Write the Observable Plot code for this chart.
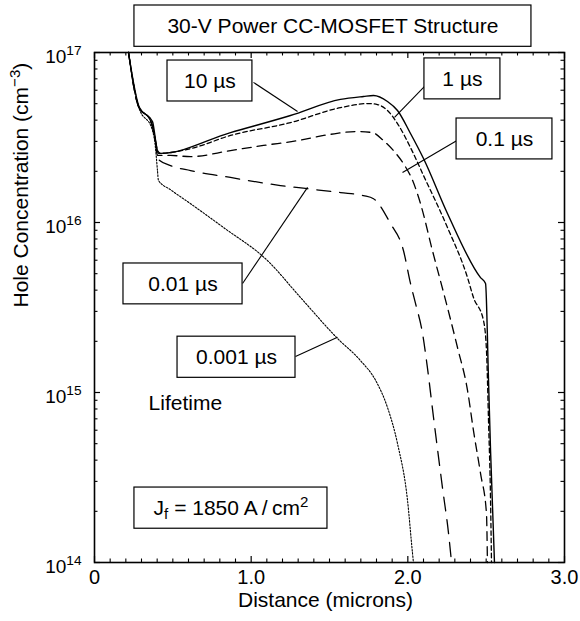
<!DOCTYPE html>
<html>
<head>
<meta charset="utf-8">
<script src="https://cdn.jsdelivr.net/npm/d3@7"></script>
<script src="https://cdn.jsdelivr.net/npm/@observablehq/plot@0.6"></script>
<style>
html, body { margin: 0; padding: 0; background: #fff; }
#chart { width: 580px; height: 621px; }
</style>
</head>
<body>
<div id="chart"></div>
<script>
// ---------- data ----------
const lifetimes = ["10 µs", "1 µs", "0.1 µs", "0.01 µs", "0.001 µs"];

const x10us = [0.217, 0.287, 0.370, 0.402, 0.421, 0.868, 1.251, 1.570, 1.717, 1.781, 1.870, 1.934, 2.017, 2.100, 2.253, 2.464, 2.496, 2.515, 2.528, 2.553];
const y10us = [1.0e17, 4.74e16, 3.93e16, 2.65e16, 2.55e16, 3.38e16, 4.26e16, 5.30e16, 5.51e16, 5.58e16, 5.15e16, 4.56e16, 3.34e16, 2.38e16, 1.13e16, 4.74e15, 4.38e15, 1.18e15, 4.56e14, 1.0e14];

const x1us = [0.217, 0.281, 0.357, 0.389, 0.408, 0.613, 0.868, 1.251, 1.570, 1.749, 1.806, 1.870, 1.934, 2.017, 2.100, 2.253, 2.381, 2.419, 2.483, 2.502, 2.515, 2.528, 2.534];
const y1us = [1.0e17, 4.81e16, 3.98e16, 3.03e16, 2.55e16, 2.72e16, 3.25e16, 3.87e16, 4.74e16, 5.01e16, 4.94e16, 4.56e16, 3.82e16, 2.76e16, 1.89e16, 9.35e15, 4.74e15, 3.62e15, 2.65e15, 1.77e15, 6.84e14, 2.32e14, 1.0e14];

const x01us = [0.217, 0.281, 0.357, 0.389, 0.402, 0.485, 0.613, 0.868, 1.079, 1.296, 1.506, 1.679, 1.774, 1.845, 1.908, 1.972, 2.030, 2.081, 2.157, 2.253, 2.317, 2.381, 2.419, 2.464, 2.502, 2.508];
const y01us = [1.0e17, 4.81e16, 3.98e16, 3.03e16, 2.48e16, 2.48e16, 2.44e16, 2.65e16, 2.84e16, 3.03e16, 3.30e16, 3.43e16, 3.38e16, 3.03e16, 2.65e16, 2.22e16, 1.77e16, 1.29e16, 6.84e15, 3.16e15, 1.84e15, 1.03e15, 5.97e14, 3.34e14, 1.94e14, 1.0e14];

const x001us = [0.217, 0.281, 0.357, 0.389, 0.402, 0.485, 0.613, 0.868, 1.187, 1.360, 1.570, 1.717, 1.781, 1.889, 1.972, 2.017, 2.049, 2.094, 2.125, 2.164, 2.221, 2.260, 2.279];
const y001us = [1.0e17, 4.81e16, 3.98e16, 3.03e16, 2.38e16, 2.16e16, 2.02e16, 1.84e16, 1.65e16, 1.58e16, 1.50e16, 1.44e16, 1.38e16, 9.86e15, 6.84e15, 4.38e15, 3.34e15, 2.22e15, 1.40e15, 7.13e14, 2.76e14, 1.48e14, 1.0e14];

const x0001us = [0.217, 0.281, 0.370, 0.389, 0.402, 0.408, 0.485, 0.613, 0.823, 1.104, 1.315, 1.551, 1.698, 1.794, 1.870, 1.934, 1.998, 2.030, 2.036];
const y0001us = [1.0e17, 4.81e16, 3.48e16, 2.76e16, 2.02e16, 1.77e16, 1.56e16, 1.29e16, 9.35e15, 5.97e15, 3.62e15, 2.08e15, 1.54e15, 1.18e15, 8.17e14, 5.01e14, 2.32e14, 1.13e14, 1.0e14];

const seriesX = [x10us, x1us, x01us, x001us, x0001us];
const seriesY = [y10us, y1us, y01us, y001us, y0001us];

// label boxes (data coordinates) and leader lines
const boxX1 = [0.466, 2.106, 2.311, 0.185, 0.530];
const boxX2 = [1.008, 2.591, 2.923, 0.945, 1.283];
const boxY1 = [5.15e16, 5.30e16, 2.35e16, 3.30e15, 1.22e15];
const boxY2 = [8.97e16, 9.23e16, 4.09e16, 5.74e15, 2.13e15];
const leadX1 = [1.015, 2.113, 2.311, 0.945, 1.283];
const leadY1 = [6.67e16, 6.40e16, 3.03e16, 4.38e15, 1.63e15];
const leadX2 = [1.296, 1.915, 1.966, 1.360, 1.551];
const leadY2 = [4.50e16, 4.15e16, 1.97e16, 1.61e16, 2.11e15];

const titleText = "30-V Power CC-MOSFET Structure";
const titleBox = {x1: 0.255, x2: 2.789, y1: 1.08e17, y2: 1.89e17};
const noteText = "Lifetime";
const notePos = {x: 0.345, y: 8.67e14};
const currentText = "J_{f} = 1850 A\u2009/\u2009cm^{2}";
const currentBox = {x1: 0.255, x2: 1.487, y1: 1.58e14, y2: 2.76e14};

const xTitle = "Distance (microns)";
const yTitle = "Hole Concentration (cm^{\u22123})";
const xTickValues = [0, 1, 2, 3];
const xTickLabels = ["0", "1.0", "2.0", "3.0"];
const yTickValues = [1e14, 1e15, 1e16, 1e17];
const yTickLabels = ["10^{14}", "10^{15}", "10^{16}", "10^{17}"];

// ---------- build ----------
const xMinor = d3.range(1, 30).filter(i => i % 10 !== 0).map(i => i / 10);
const yMinor = [14, 15, 16].flatMap(e => d3.range(2, 10).map(m => m * Math.pow(10, e)));

const dashes = [null, "4.5,3", "9,6", "14,9", "1.6,1.6"];
const widths = [1.4, 1.3, 1.3, 1.3, 1.1];

const W = 580, H = 621, mL = 94, mR = 16, mT = 52, mB = 59;
const pW = W - mL - mR, pH = H - mT - mB;
const majorLen = 6, minorLen = 3.5;

const boxes = lifetimes.map((label, i) => ({label, x1: boxX1[i], x2: boxX2[i], y1: boxY1[i], y2: boxY2[i]}));
const leaders = lifetimes.map((label, i) => ({x1: leadX1[i], y1: leadY1[i], x2: leadX2[i], y2: leadY2[i]}));

const lineMarks = lifetimes.map((s, i) =>
  Plot.line(seriesX[i].map((x, j) => ({x, y: seriesY[i][j]})), {
    x: "x", y: "y", stroke: "black", strokeWidth: widths[i],
    strokeDasharray: dashes[i] || undefined, curve: "monotone-x"
  })
);

const chart = Plot.plot({
  width: W, height: H,
  marginLeft: mL, marginRight: mR, marginTop: mT, marginBottom: mB,
  style: {fontFamily: "'Liberation Sans', Arial, Helvetica, sans-serif", fontSize: "20px", background: "white", color: "black"},
  x: {domain: [0, 3], axis: null},
  y: {type: "log", domain: [1e14, 1e17], axis: null},
  marks: [
    ...lineMarks,
    Plot.link(leaders, {x1: "x1", y1: "y1", x2: "x2", y2: "y2", stroke: "black", strokeWidth: 1.1}),
    Plot.rect(boxes, {x1: "x1", x2: "x2", y1: "y1", y2: "y2", fill: "white", stroke: "black", strokeWidth: 1.2}),
    Plot.text(boxes, {x: d => (d.x1 + d.x2) / 2, y: d => Math.sqrt(d.y1 * d.y2), text: "label", fontSize: 21}),
    Plot.rect([currentBox], {x1: "x1", x2: "x2", y1: "y1", y2: "y2", fill: "white", stroke: "black", strokeWidth: 1.2}),
    Plot.text([currentBox], {x: d => (d.x1 + d.x2) / 2, y: d => Math.sqrt(d.y1 * d.y2), text: () => currentText, fontSize: 21}),
    Plot.text([notePos], {x: "x", y: "y", text: () => noteText, textAnchor: "start", fontSize: 21}),
    Plot.rect([titleBox], {x1: "x1", x2: "x2", y1: "y1", y2: "y2", fill: "white", stroke: "black", strokeWidth: 1.2}),
    Plot.text([titleBox], {x: d => (d.x1 + d.x2) / 2, y: d => Math.sqrt(d.y1 * d.y2), text: () => titleText, fontSize: 21}),
    // ticks (inward, all four sides)
    Plot.tickX(xTickValues, {x: d => d, insetTop: pH - majorLen, strokeWidth: 1.2}),
    Plot.tickX(xTickValues, {x: d => d, insetBottom: pH - majorLen, strokeWidth: 1.2}),
    Plot.tickX(xMinor, {x: d => d, insetTop: pH - minorLen, strokeWidth: 1.1}),
    Plot.tickX(xMinor, {x: d => d, insetBottom: pH - minorLen, strokeWidth: 1.1}),
    Plot.tickY(yTickValues, {y: d => d, insetRight: pW - majorLen, strokeWidth: 1.2}),
    Plot.tickY(yTickValues, {y: d => d, insetLeft: pW - majorLen, strokeWidth: 1.2}),
    Plot.tickY(yMinor, {y: d => d, insetRight: pW - minorLen, strokeWidth: 1.1}),
    Plot.tickY(yMinor, {y: d => d, insetLeft: pW - minorLen, strokeWidth: 1.1}),
    // tick labels
    Plot.text(xTickValues, {x: d => d, text: (d, i) => xTickLabels[i], frameAnchor: "bottom", lineAnchor: "middle", dy: 15, fontSize: 20}),
    Plot.text(yTickValues, {y: d => d, text: (d, i) => yTickLabels[i], frameAnchor: "left", textAnchor: "end", lineAnchor: "middle", dx: -13, dy: 4, fontSize: 19}),
    // axis titles
    Plot.text([xTitle], {text: d => d, frameAnchor: "bottom", lineAnchor: "middle", dy: 38, dx: -4, fontSize: 21}),
    Plot.text([yTitle], {text: d => d, frameAnchor: "left", lineAnchor: "middle", dx: -73, rotate: -90, fontSize: 21}),
    Plot.frame({stroke: "black", strokeWidth: 1.6})
  ]
});

document.getElementById("chart").appendChild(chart);

// rich text: ^{...} superscript, _{...} subscript
(function richify(root) {
  const ns = "http://www.w3.org/2000/svg";
  root.querySelectorAll("text").forEach(t => {
    const s = t.textContent;
    if (!/[\^_]\{/.test(s)) return;
    const fs = parseFloat(getComputedStyle(t).fontSize) || 20;
    while (t.firstChild) t.removeChild(t.firstChild);
    const re = /([\^_])\{([^}]*)\}/g;
    let last = 0, m, offset = 0;
    const add = (txt, dy, small) => {
      if (!txt) return;
      const ts = document.createElementNS(ns, "tspan");
      ts.textContent = txt;
      if (dy) ts.setAttribute("dy", dy);
      if (small) ts.setAttribute("font-size", small);
      t.appendChild(ts);
    };
    while ((m = re.exec(s))) {
      add(s.slice(last, m.index), offset ? -offset : 0);
      offset = 0;
      const shift = m[1] === "^" ? -0.38 * fs : 0.22 * fs;
      add(m[2], shift, (0.72 * fs).toFixed(1));
      offset = shift;
      last = re.lastIndex;
    }
    add(s.slice(last), offset ? -offset : 0);
  });
})(chart);
</script>
</body>
</html>
